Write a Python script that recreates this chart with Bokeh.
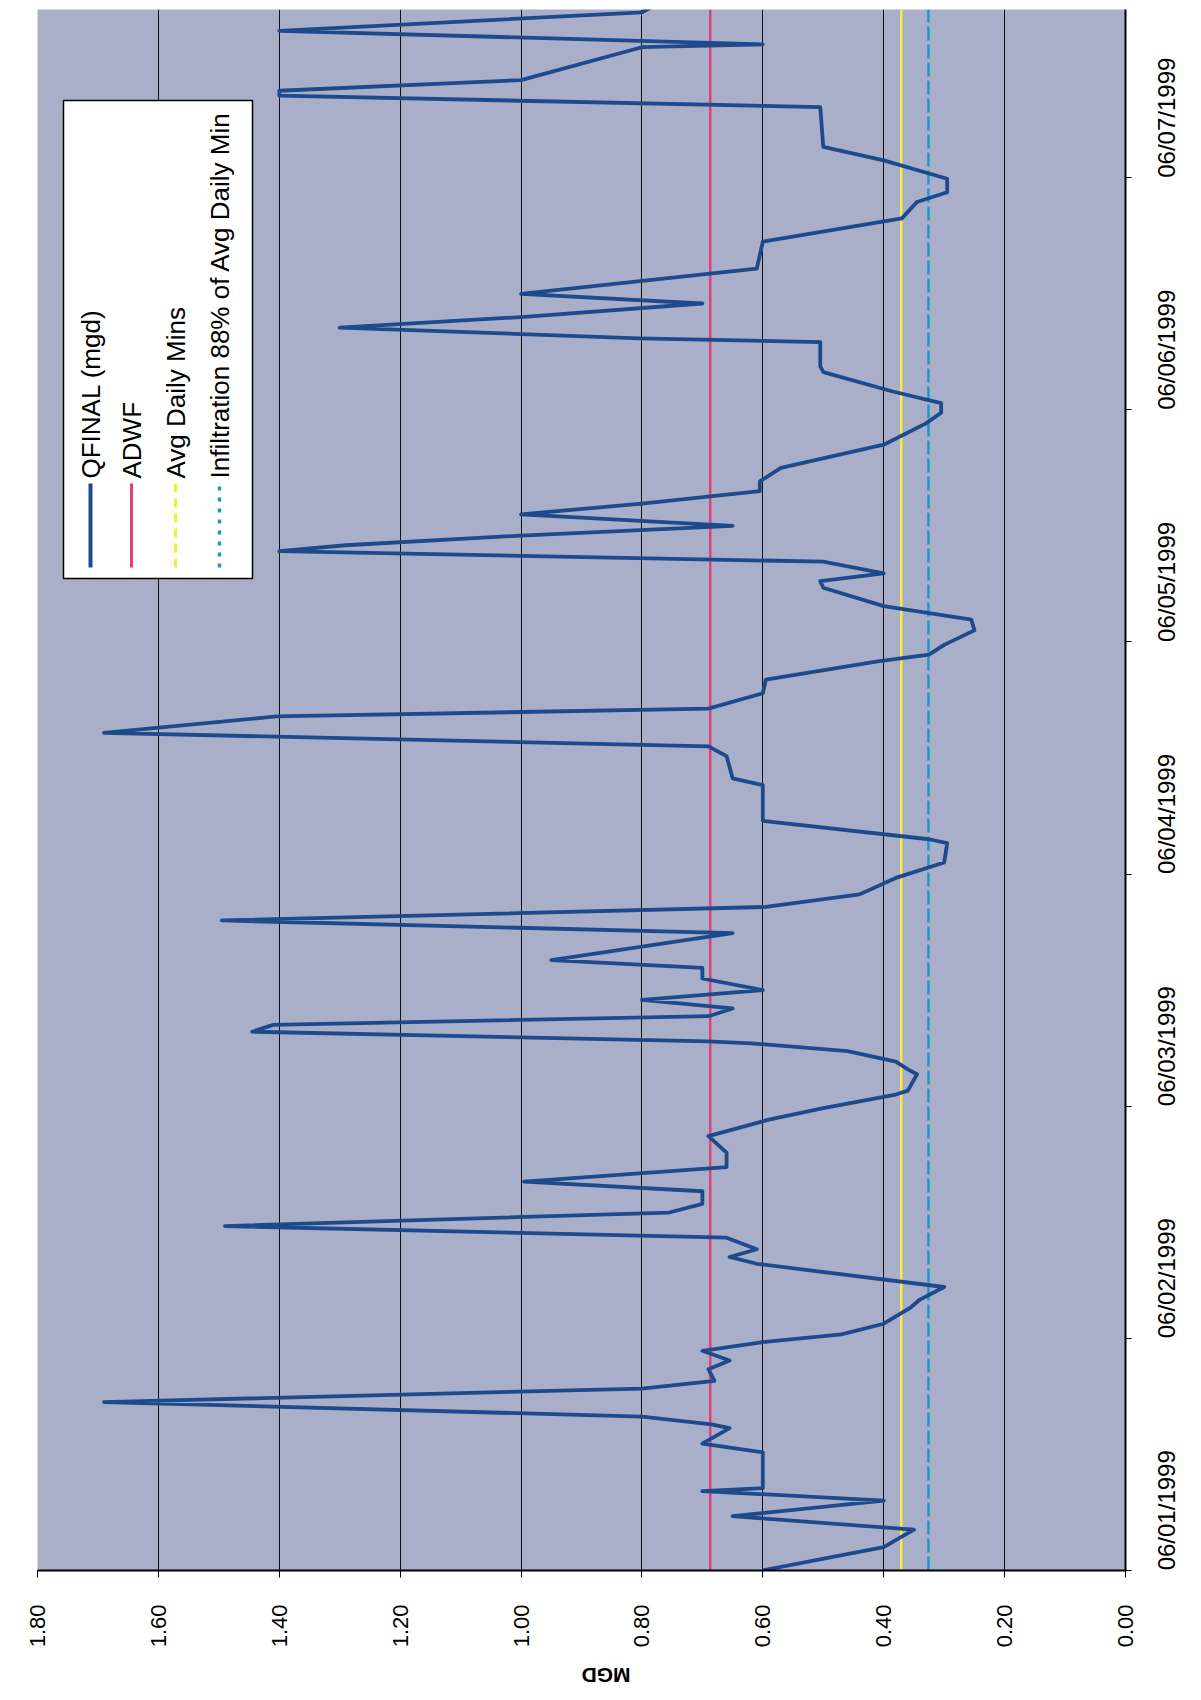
import math
from datetime import datetime, timedelta
from bokeh.plotting import figure
from bokeh.models import (Range1d, FixedTicker, NumeralTickFormatter, DatetimeAxis,
                          DatetimeTickFormatter, ColumnDataSource)
from bokeh.core.properties import value
from bokeh.embed import file_html
from bokeh.resources import INLINE

# ---------------- data ----------------
base = datetime(1999, 6, 1)
hours = [0.0, 2.4, 4.2, 5.6, 7.2, 8.2, 8.5, 12.2, 13.1, 14.7, 15.1, 15.9, 17.4, 18.8, 19.6,
         20.8, 21.7, 22.7, 23.6, 24.4, 25.5, 27.2, 28.0, 29.3, 31.7, 32.4, 33.2, 34.4, 35.6,
         37.0, 37.9, 39.2, 40.2, 41.7, 43.2, 44.9, 46.6, 47.8, 49.2, 49.6, 51.3, 51.8, 52.6,
         53.7, 54.5, 54.7, 55.7, 56.4, 57.3, 58.1, 59.0, 60.0, 61.2, 62.3, 63.1, 65.9, 67.2,
         68.6, 69.9, 71.6, 73.2, 75.2, 75.6, 77.5, 81.2, 81.9, 84.2, 85.2, 86.6, 88.3, 89.1,
         90.7, 92.1, 94.0, 94.7, 95.7, 97.2, 98.3, 99.7, 101.6, 102.3, 103.1, 104.3, 105.4,
         106.0, 107.0, 108.0, 109.2, 110.3, 111.6, 112.6, 114.0, 116.4, 118.6, 119.7, 120.7,
         121.9, 123.9, 124.5, 127.0, 127.4, 128.5, 129.6, 131.0, 132.0, 134.6, 137.4, 139.8,
         141.5, 142.5, 143.9, 145.8, 147.2, 151.3, 152.5, 153.0, 154.1, 157.5, 157.8, 159.2,
         161.1, 161.8]
qfinal = [0.60, 0.40, 0.35, 0.65, 0.40, 0.70, 0.60, 0.60, 0.70, 0.655, 0.685, 0.80, 1.69, 0.80, 0.68,
          0.69, 0.655, 0.70, 0.60, 0.47, 0.40, 0.355, 0.34, 0.30, 0.61, 0.655, 0.61, 0.66, 1.49,
          0.755, 0.70, 0.70, 0.995, 0.66, 0.66, 0.69, 0.59, 0.50, 0.38, 0.36, 0.345, 0.36, 0.38,
          0.46, 0.62, 0.69, 1.445, 1.41, 0.69, 0.65, 0.80, 0.60, 0.70, 0.70, 0.95, 0.65, 1.495,
          0.595, 0.44, 0.38, 0.30, 0.295, 0.325, 0.60, 0.60, 0.65, 0.66, 0.69, 1.69, 1.405, 0.69,
          0.60, 0.595, 0.41, 0.325, 0.30, 0.25, 0.255, 0.40, 0.50, 0.505, 0.40, 0.50, 1.40,
          1.29, 1.00, 0.65, 1.00, 0.80, 0.605, 0.605, 0.57, 0.40, 0.33, 0.305, 0.305,
          0.385, 0.50, 0.505, 0.505, 0.805, 1.30, 1.00, 0.70, 1.00, 0.61, 0.60, 0.37,
          0.345, 0.295, 0.295, 0.40, 0.50, 0.505, 1.40, 1.40, 1.00, 0.80, 0.60, 1.40,
          0.80, 0.78]
adwf = 0.687
avg_daily_mins = 0.371
infiltration = 0.326   # 88% of avg daily min
mgd_ticks = [0.0, 0.2, 0.4, 0.6, 0.8, 1.0, 1.2, 1.4, 1.6, 1.8]
day_ticks = [base + timedelta(days=d) for d in range(7)]
legend_labels = ["QFINAL (mgd)", "ADWF", "Avg Daily Mins", "Infiltration 88% of Avg Daily Min"]

# ---------------- styling / layout ----------------
FONT = "Liberation Sans"
BLUE = "#1d4a8c"
PINK = "#e23f7e"
YELLOW = "#f2ee3c"
TEAL = "#1f97c8"

t0 = base - timedelta(minutes=1)
t1 = base + timedelta(hours=161.4)
def ms(d):
    return (d - datetime(1970, 1, 1)).total_seconds() * 1000.0

FL, FR, FT, FB = 37, 1125, 9, 1570   # frame edges on the page
FW, FH = FR - FL, FB - FT

p = figure(frame_width=FW, frame_height=FH,
           x_range=Range1d(1.8, 0.0), y_range=Range1d(ms(t0), ms(t1)),
           y_axis_type=None, toolbar_location=None, output_backend="svg",
           min_border_left=FL, min_border_top=FT, min_border_right=30,
           min_border_bottom=40)
p.background_fill_color = "#a9afc8"
p.border_fill_color = "white"
p.outline_line_color = None

# bottom (MGD) axis
xa = p.xaxis[0]
xa.ticker = FixedTicker(ticks=mgd_ticks)
xa.formatter = NumeralTickFormatter(format="0.00")
xa.major_label_orientation = math.pi / 2
xa.major_label_text_font = FONT
xa.major_label_text_font_size = "22px"
xa.major_label_text_color = "black"
xa.major_label_standoff = 27
xa.major_tick_out = 7
xa.major_tick_in = 0
xa.minor_tick_out = 0
xa.minor_tick_in = 0
xa.axis_line_width = 2
xa.axis_line_color = "black"
xa.axis_label = "MGD"
xa.axis_label_text_font = FONT
xa.axis_label_text_font_size = "21px"
xa.axis_label_text_font_style = "bold"
xa.axis_label_text_color = "black"
xa.axis_label_standoff = 25
try:
    xa.axis_label_orientation = math.pi
except Exception:
    pass

p.xgrid.ticker = FixedTicker(ticks=mgd_ticks)
p.xgrid.grid_line_color = "#111111"
p.xgrid.grid_line_width = 1

# right (date) axis
fmt = "%m/%d/%Y"
ya = DatetimeAxis(ticker=FixedTicker(ticks=[ms(d) for d in day_ticks]),
                  formatter=DatetimeTickFormatter(days=fmt, months=fmt, years=fmt, hours=fmt,
                                                  hourmin=fmt, minutes=fmt, minsec=fmt,
                                                  seconds=fmt, milliseconds=fmt, microseconds=fmt))
ya.major_label_orientation = math.pi / 2
ya.major_label_text_font = FONT
ya.major_label_text_font_size = "24px"
ya.major_label_text_color = "black"
ya.major_label_standoff = 35
ya.major_tick_out = 6
ya.major_tick_in = 0
ya.minor_tick_out = 0
ya.minor_tick_in = 0
ya.axis_line_width = 2
ya.axis_line_color = "black"
p.add_layout(ya, "right")

# ---------------- series ----------------
times = [ms(base + timedelta(hours=h)) for h in hours]
src = ColumnDataSource(dict(t=times, q=qfinal))
ys = [ms(t0), ms(t1)]
p.line([adwf, adwf], ys, line_color=PINK, line_width=2.5)
p.line([avg_daily_mins, avg_daily_mins], ys, line_color=YELLOW, line_width=2.5)
p.line([infiltration, infiltration], ys, line_color=TEAL, line_width=2.5, line_dash="14 4")
p.line("q", "t", source=src, line_color=BLUE, line_width=3.8, line_join="round")

# ---------------- legend (rotated, drawn by hand) ----------------
def px2x(px):
    return 1.8 - (px - FL) / FW * 1.8
def py2y(py):
    return ms(t1) - (py - FT) / FH * (ms(t1) - ms(t0))

p.quad(left=[px2x(63)], right=[px2x(252)], top=[py2y(100)], bottom=[py2y(578)],
       fill_color="white", line_color="black", line_width=1.5)
item_px = [90, 131, 175, 219]
styles = [(BLUE, 4, None), (PINK, 3, None), (YELLOW, 3, "9 6"), (TEAL, 3.5, "4 7")]
for xp, lab, (col, lw, dash) in zip(item_px, legend_labels, styles):
    kw = dict(line_color=col, line_width=lw)
    if dash:
        kw["line_dash"] = dash
    p.line([px2x(xp), px2x(xp)], [py2y(567), py2y(483)], **kw)
    p.text([px2x(xp)], [py2y(478)], text=[lab], angle=math.pi / 2,
           text_align="left", text_baseline="middle", text_font=value(FONT),
           text_font_size="26px", text_color="black")

open("out.html", "w").write(file_html(p, INLINE))
